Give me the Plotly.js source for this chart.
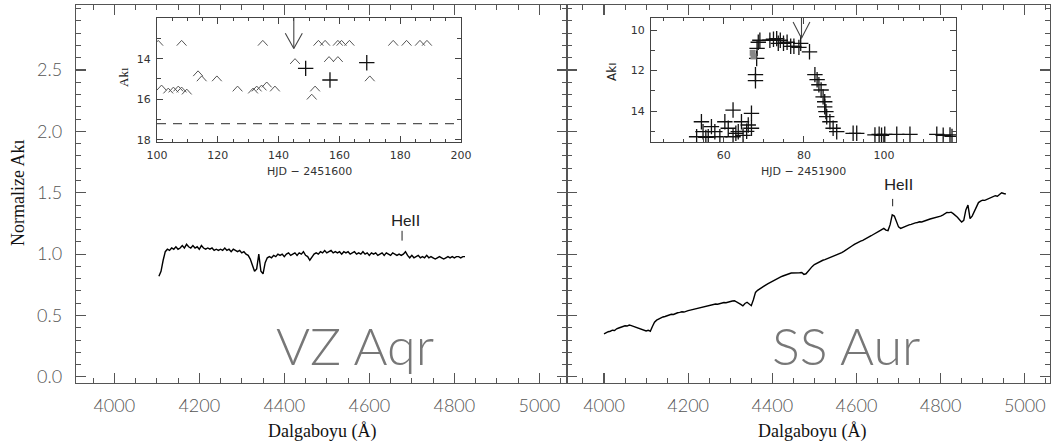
<!DOCTYPE html>
<html><head><meta charset="utf-8">
<script src="https://cdn.plot.ly/plotly-3.0.1.min.js"></script>
<style>html,body{margin:0;padding:0;background:#fff}#chart{width:1051px;height:448px}</style>
</head><body><div id="chart"></div>
<script>
// ---------- data ----------
const vzStart = 4105, vzStep = 5;
const vzFlux = [
 0.82,0.86,0.95,1.02,1.04,1.03,1.05,1.04,1.06,1.04,
 1.05,1.07,1.05,1.08,1.06,1.05,1.07,1.05,1.06,1.04,
 1.07,1.05,1.04,1.05,1.04,1.05,1.03,1.04,1.03,1.04,
 1.03,1.05,1.03,1.04,1.02,1.04,1.03,1.02,1.03,1.01,
 1.02,1.00,0.99,0.96,0.91,0.86,0.88,1.00,0.86,0.84,
 0.93,0.97,0.98,0.97,0.99,0.98,1.00,0.99,1.00,0.98,
 1.00,1.01,0.99,1.00,1.01,0.99,1.01,1.00,1.02,0.99,
 0.98,0.95,0.98,1.00,1.01,1.00,1.02,1.01,1.03,1.01,
 1.02,1.03,1.01,1.02,1.01,1.02,1.00,1.02,1.01,1.02,
 1.00,1.01,1.02,1.00,1.01,1.00,1.02,1.00,1.01,0.99,
 1.01,1.00,1.01,0.99,1.00,1.01,0.99,1.01,1.00,0.99,
 1.01,1.00,0.99,1.00,0.99,1.00,1.02,0.99,0.97,0.99,
 0.97,0.98,0.99,0.97,0.98,0.97,0.99,0.97,0.98,0.97,
 0.96,0.97,0.98,0.97,0.96,0.97,0.98,0.97,0.98,0.97,
 0.98,0.98,0.97,0.98,0.98];
const ssStart = 4000, ssStep = 5;
const ssFlux = [
 0.350,0.362,0.368,0.372,0.380,0.378,0.392,0.398,0.405,0.412,
 0.416,0.414,0.422,0.418,0.412,0.408,0.402,0.396,0.386,0.382,
 0.374,0.380,0.372,0.410,0.445,0.462,0.472,0.480,0.488,0.492,
 0.500,0.505,0.510,0.508,0.517,0.522,0.525,0.530,0.528,0.536,
 0.540,0.544,0.548,0.552,0.556,0.560,0.566,0.568,0.575,0.580,
 0.584,0.588,0.590,0.594,0.592,0.598,0.600,0.606,0.604,0.610,
 0.614,0.618,0.620,0.612,0.604,0.590,0.578,0.598,0.608,0.592,
 0.580,0.628,0.688,0.705,0.718,0.730,0.742,0.750,0.760,0.770,
 0.780,0.790,0.800,0.808,0.815,0.822,0.830,0.836,0.840,0.846,
 0.848,0.850,0.852,0.848,0.850,0.835,0.840,0.862,0.880,0.900,
 0.915,0.925,0.935,0.942,0.950,0.955,0.962,0.968,0.975,0.982,
 0.990,0.996,1.000,1.012,1.022,1.032,1.042,1.055,1.068,1.080,
 1.090,1.098,1.106,1.112,1.120,1.130,1.142,1.150,1.160,1.172,
 1.180,1.190,1.200,1.210,1.196,1.192,1.240,1.320,1.310,1.260,
 1.222,1.210,1.218,1.225,1.230,1.238,1.242,1.250,1.255,1.258,
 1.264,1.262,1.270,1.275,1.280,1.286,1.290,1.296,1.300,1.304,
 1.310,1.318,1.330,1.340,1.338,1.342,1.330,1.318,1.300,1.280,
 1.262,1.275,1.360,1.400,1.290,1.310,1.350,1.390,1.420,1.432,
 1.440,1.438,1.446,1.452,1.460,1.468,1.476,1.472,1.490,1.500,
 1.494,1.490];
const xTickVals = [4000,4200,4400,4600,4800,5000];
const yTickVals = [0,0.5,1,1.5,2,2.5];
const yTickText = ['0.0','0.5','1.0','1.5','2.0','2.5'];
const heIILambda = 4686;

// VZ Aqr light curve (HJD - 2451600, mag)
const vzLimX = [100.4,108.1,134.8,153.1,155.3,159.5,160.7,163.3,177.7,182.1,186.5,188.8,
  145.4,156.6,159.5,113.5,114.7,119.7,170.0,
  101.5,103.7,105.4,107.0,108.1,109.8,126.5,131.6,132.8,134.4,136.1,138.8,152.0,150.9];
const vzLimY = [13.1,13.1,13.1,13.1,13.1,13.1,13.1,13.1,13.1,13.1,13.1,13.1,
  14.0,13.9,13.9,14.6,14.85,14.85,14.85,
  15.3,15.45,15.4,15.35,15.4,15.5,15.35,15.45,15.35,15.3,15.15,15.35,15.35,15.75];
const vzDetX = [148.9,156.9,169.0];
const vzDetY = [14.48,15.05,14.2];
const vzLimitMag = 17.2;
const vzArrow = {date:145, tip:13.5};

// SS Aur light curve (HJD - 2451900, mag)
const ssDetX = [53.2,54.4,54.8,55.5,56.1,56.9,57.75,59.0,60.25,61.1,62.3,62.3,63.0,63.6,64.4,64.8,65.7,66.1,66.9,66.9,
  67.9,67.9,68.2,68.3,68.6,69.0,71.5,72.4,73.2,73.6,74.1,74.9,75.8,76.7,77.5,78.75,79.2,81.4,
  82.75,83.3,83.75,84.3,84.8,85.2,85.2,85.5,85.7,86.5,87.3,88.2,92.3,93.2,97.75,98.8,99.4,100.2,103.2,106.5,113.2,114.8,116.5,117.0];
const ssDetY = [15.27,14.53,15.02,15.3,15.27,14.77,15.02,15.27,14.53,14.85,13.95,15.27,15.1,15.02,14.53,15.2,15.0,14.69,14.11,14.85,
  12.2,12.5,11.4,10.9,10.6,10.5,10.5,10.45,10.42,10.65,10.5,10.65,10.6,10.8,10.8,10.85,10.65,11.07,
  12.2,12.45,12.7,12.96,13.3,13.54,13.79,14.03,14.28,14.53,14.85,15.02,15.1,15.1,15.18,15.15,15.2,15.15,15.15,15.15,15.15,15.2,15.18,15.25];
const ssSqX = [67.2,67.4];
const ssSqY = [11.12,11.3];
const ssArrow = {date:79.4, tip:10.4};

// ---------- geometry helpers ----------
const W = 1051, H = 448, T = 5, B = 383;
const px = v => v / W;
const py = v => (B - v) / (B - T);

function grid(start, step, n){ const a=[]; for(let i=0;i<n;i++) a.push(start+i*step); return a; }
function carets(xs, ys, hw, hh){
  const X=[],Y=[];
  xs.forEach((x,i)=>{X.push(x-hw,x,x+hw,null);Y.push(ys[i]+hh,ys[i],ys[i]+hh,null);});
  return {X,Y};
}
function arrowDown(a, top, hw, hh){
  return {X:[a.date,a.date,null,a.date-hw,a.date,a.date+hw], Y:[top,a.tip,null,a.tip-hh,a.tip,a.tip-hh]};
}
const cv = carets(vzLimX, vzLimY, 1.6, 0.26);
const av = arrowDown(vzArrow, 12.0, 2.8, 0.75);
const as = arrowDown(ssArrow, 9.4, 2.1, 0.8);

const traces = [
  {x:grid(vzStart,vzStep,vzFlux.length), y:vzFlux, xaxis:'x', yaxis:'y', mode:'lines', line:{color:'#000',width:1.4}},
  {x:grid(ssStart,ssStep,ssFlux.length), y:ssFlux, xaxis:'x2', yaxis:'y2', mode:'lines', line:{color:'#000',width:1.4}},
  {x:cv.X, y:cv.Y, xaxis:'x3', yaxis:'y3', mode:'lines', line:{color:'#555',width:1}},
  {x:vzDetX, y:vzDetY, xaxis:'x3', yaxis:'y3', mode:'markers',
    marker:{symbol:'cross-thin-open', size:11, color:'#111', line:{width:1.3,color:'#111'}}},
  {x:av.X, y:av.Y, xaxis:'x3', yaxis:'y3', mode:'lines', line:{color:'#444',width:1.1}},
  {x:ssDetX, y:ssDetY, xaxis:'x4', yaxis:'y4', mode:'markers',
    marker:{symbol:'cross-thin-open', size:11, color:'#111', line:{width:1.3,color:'#111'}}},
  {x:ssSqX, y:ssSqY, xaxis:'x4', yaxis:'y4', mode:'markers',
    marker:{symbol:'square', size:6, color:'#888'}},
  {x:as.X, y:as.Y, xaxis:'x4', yaxis:'y4', mode:'lines', line:{color:'#444',width:1.1}}
];

const mainTickFont = {family:'Lato, Open Sans, sans-serif', size:18, color:'#555', weight:300};
const baseAx = {showgrid:false, zeroline:false, showline:true, linecolor:'#555', linewidth:1.2,
  ticks:'inside', tickcolor:'#555', tickwidth:1.2, mirror:'allticks'};
function mainX(domain, range, anchor){
  return Object.assign({}, baseAx, {domain, range, anchor, tickvals:xTickVals, ticklen:10,
    tickfont:mainTickFont, ticklabelstandoff:6,
    minor:{tick0:4000, dtick:50, ticks:'inside', ticklen:5, tickcolor:'#555', tickwidth:1, showgrid:false}});
}
function mainY(anchor, labels){
  return Object.assign({}, baseAx, {domain:[0,1], range:[-0.05,3.03], anchor, tickvals:yTickVals, ticktext:yTickText,
    ticklen:10, showticklabels:labels, tickfont:mainTickFont, ticklabelstandoff:9,
    minor:{tick0:0, dtick:0.1, ticks:'inside', ticklen:5, tickcolor:'#555', tickwidth:1, showgrid:false}});
}
const insetFont = {family:'DejaVu Sans, sans-serif', size:11, color:'#333'};
const insetAx = {showgrid:false, zeroline:false, showline:true, linecolor:'#444', linewidth:1,
  ticks:'inside', tickcolor:'#444', tickwidth:1, ticklen:6, mirror:'allticks', tickfont:insetFont, ticklabelstandoff:3};
function insetX(domain, range, anchor, tickvals){
  return Object.assign({}, insetAx, {domain, range, anchor, tickvals,
    minor:{dtick:5, tick0:0, ticks:'inside', ticklen:3, tickcolor:'#444', showgrid:false}});
}
function insetY(domain, range, anchor, tickvals){
  return Object.assign({}, insetAx, {domain, range, anchor, tickvals,
    minor:{dtick:1, tick0:0, ticks:'inside', ticklen:4, tickcolor:'#444', showgrid:false}});
}
const inDom = [py(142), py(18)];

const ann = (x,y,text,font,extra) => Object.assign({xref:'paper', yref:'paper', x:px(x), y:py(y), text, showarrow:false,
  xanchor:'center', yanchor:'middle', font}, extra||{});
const serif = {family:'Liberation Serif, Times New Roman, serif', size:18, color:'#111'};
const bigFont = {family:'Lato, Open Sans, sans-serif', size:52, color:'#777', weight:300};
const heFont = {family:'Lato, DejaVu Sans, sans-serif', size:16, color:'#222'};

const layout = {
  width:W, height:H, margin:{l:0,r:0,t:T,b:H-B}, paper_bgcolor:'#fff', plot_bgcolor:'rgba(0,0,0,0)',
  showlegend:false, hovermode:false,
  xaxis: mainX([px(76),px(567)], [3910,5065], 'y'),
  yaxis: mainY('x', true),
  xaxis2: mainX([px(567),px(1050)], [3912,5060], 'y2'),
  yaxis2: mainY('x2', false),
  xaxis3: insetX([px(157),px(461)], [100,200], 'y3', [100,120,140,160,180,200]),
  yaxis3: insetY(inDom, [18.1,12.0], 'x3', [14,16,18]),
  xaxis4: insetX([px(651),px(956)], [41.8,118], 'y4', [60,80,100]),
  yaxis4: insetY(inDom, [15.53,9.4], 'x4', [10,12,14]),
  shapes:[
    {type:'line', xref:'x3 domain', yref:'y3', x0:0, x1:1, y0:vzLimitMag, y1:vzLimitMag, line:{color:'#555',width:1.2,dash:'9px,7px'}},
    {type:'line', xref:'x', yref:'y', x0:heIILambda-9, x1:heIILambda-9, y0:1.11, y1:1.19, line:{color:'#222',width:1}},
    {type:'line', xref:'x2', yref:'y2', x0:heIILambda, x1:heIILambda, y0:1.39, y1:1.45, line:{color:'#222',width:1}}
  ],
  annotations:[
    ann(18,193,'Normalize Akı',serif,{textangle:-90}),
    ann(322,432,'Dalgaboyu (Å)',serif),
    ann(812,432,'Dalgaboyu (Å)',serif),
    ann(355,345,'VZ Aqr',bigFont),
    ann(846,345,'SS Aur',bigFont),
    ann(405,219,'HeII',heFont),
    ann(898,183,'HeII',heFont),
    ann(309,172,'HJD − 2451600',insetFont),
    ann(803,172,'HJD − 2451900',insetFont),
    ann(123,77,'Akı',{family:'Liberation Serif, serif',size:13,color:'#222'},{textangle:-90}),
    ann(612,72,'Akı',{family:'DejaVu Sans, sans-serif',size:12,color:'#222'},{textangle:-90})
  ]
};
Plotly.newPlot('chart', traces, layout, {staticPlot:true, displayModeBar:false});
</script></body></html>
